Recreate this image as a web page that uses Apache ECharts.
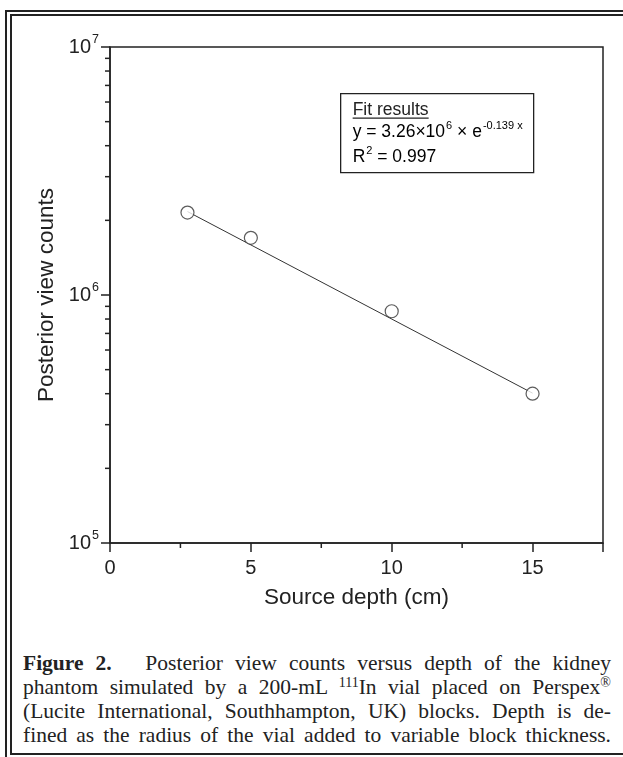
<!DOCTYPE html>
<html>
<head>
<meta charset="utf-8">
<script src="https://cdn.jsdelivr.net/npm/echarts@6/dist/echarts.min.js"></script>
<style>
  html, body { margin: 0; padding: 0; background: #fff; width: 623px; height: 757px; overflow: hidden; }
  #outer { position: absolute; left: 5px; top: 10px; width: 700px; height: 800px; border-left: 2px solid #222; border-top: 2px solid #222; }
  #inner { position: absolute; left: 10px; top: 14px; width: 700px; height: 737px; border-left: 2px solid #222; border-top: 2px solid #222; border-bottom: 2px solid #222; }
  #chart { position: absolute; left: 0; top: 0; width: 623px; height: 630px; }
  #caption { position: absolute; left: 23px; top: 651px; width: 588px; font-family: "Liberation Serif", "Times New Roman", serif; font-size: 21.5px; line-height: 24px; color: #222; }
  #caption div { text-align: justify; text-align-last: justify; white-space: nowrap; }
  sup { font-size: 14px; line-height: 0; vertical-align: 7px; }
</style>
</head>
<body>
<div id="outer"></div>
<div id="inner"></div>
<div id="chart"></div>
<div id="caption">
  <div><b>Figure 2.</b>&ensp;&ensp; Posterior view counts versus depth of the kidney</div>
  <div>phantom simulated by a 200-mL <sup>111</sup>In vial placed on Perspex<sup>®</sup></div>
  <div>(Lucite International, Southhampton, UK) blocks. Depth is de-</div>
  <div>fined as the radius of the vial added to variable block thickness.</div>
</div>
<script>
// ---- data ----
var depthCm = [2.75, 5, 10, 15];
var counts = [2.15e6, 1.70e6, 8.6e5, 4.0e5];
var fitDepth = [2.75, 15];
var fitCounts = [2.17e6, 4.02e5];
var xTicks = [0, 5, 10, 15];
var xMinorTicks = [2.5, 7.5, 12.5];
var yTicks = [1e5, 1e6, 1e7];
var yTickExponents = ['5', '6', '7'];
var yMinorTicks = [2e5, 3e5, 4e5, 5e5, 6e5, 7e5, 8e5, 9e5, 2e6, 3e6, 4e6, 5e6, 6e6, 7e6, 8e6, 9e6];
var xAxisTitle = 'Source depth (cm)';
var yAxisTitle = 'Posterior view counts';
var fitTitle = 'Fit results';
var fitEquation = ['y = 3.26\u00d710', '6', ' \u00d7 e', '-0.139 x'];
var fitR2 = ['R', '2', ' = 0.997'];

var X_MIN = 0, X_MAX = 17.5, Y_MIN = 1e5, Y_MAX = 1e7;
var INK = '#222';
var SANS = '"Liberation Sans", Arial, sans-serif';

var chart = echarts.init(document.getElementById('chart'), null, { renderer: 'canvas' });

function pairs(a, b) { return a.map(function (v, i) { return [v, b[i]]; }); }

var boxRich = {
  n: { fontFamily: SANS, fontSize: 17.5, color: INK },
  s: { fontFamily: SANS, fontSize: 11, color: INK, padding: [0, 0, 12, 1] }
};

var option = {
  animation: false,
  backgroundColor: 'transparent',
  grid: { left: 110, top: 47, width: 493, height: 496, show: true, borderColor: INK, borderWidth: 1.5, backgroundColor: 'transparent' },
  xAxis: {
    type: 'value', min: X_MIN, max: X_MAX, interval: 5,
    name: xAxisTitle, nameLocation: 'middle', nameGap: 43,
    nameTextStyle: { fontFamily: SANS, fontSize: 22.5, color: INK },
    axisLine: { show: true, lineStyle: { color: INK, width: 1.5 } },
    axisTick: { show: true, inside: false, length: 9, lineStyle: { color: INK, width: 1.5 } },
    axisLabel: {
      margin: 15, fontFamily: SANS, fontSize: 20, color: INK,
      formatter: function (v) { return xTicks.indexOf(v) >= 0 ? String(v) : ''; }
    },
    splitLine: { show: false }
  },
  yAxis: {
    type: 'log', logBase: 10, min: Y_MIN, max: Y_MAX, interval: 1,
    name: yAxisTitle, nameLocation: 'middle', nameGap: 51, nameRotate: 90,
    nameTextStyle: { fontFamily: SANS, fontSize: 22.5, color: INK },
    axisLine: { show: true, lineStyle: { color: INK, width: 1.5 } },
    axisTick: { show: true, inside: false, length: 9, lineStyle: { color: INK, width: 1.5 } },
    axisLabel: {
      margin: 11, color: INK,
      formatter: function (v) {
        var i = yTicks.indexOf(v);
        if (i < 0) { i = Math.round(Math.log10(v)) - 5; }
        return '{b|10}{s|' + yTickExponents[i] + '}';
      },
      rich: {
        b: { fontFamily: SANS, fontSize: 20, color: INK },
        s: { fontFamily: SANS, fontSize: 12.5, color: INK, padding: [0, 0, 15, 1] }
      }
    },
    splitLine: { show: false }
  },
  series: [
    {
      type: 'custom', silent: true, clip: false, z: 1,
      data: yMinorTicks.map(function (v) { return [X_MIN, v]; }),
      renderItem: function (params, api) {
        var p = api.coord([X_MIN, api.value(1)]);
        return { type: 'line', shape: { x1: p[0] - 5, y1: p[1], x2: p[0], y2: p[1] }, style: { stroke: INK, lineWidth: 1.5 } };
      }
    },
    {
      type: 'custom', silent: true, clip: false, z: 1,
      data: xMinorTicks.map(function (v) { return [v, Y_MIN]; }),
      renderItem: function (params, api) {
        var p = api.coord([api.value(0), Y_MIN]);
        return { type: 'line', shape: { x1: p[0], y1: p[1], x2: p[0], y2: p[1] + 5 }, style: { stroke: INK, lineWidth: 1.5 } };
      }
    },
    {
      type: 'line', data: pairs(fitDepth, fitCounts), showSymbol: false, z: 2,
      lineStyle: { color: '#333', width: 1 }
    },
    {
      type: 'scatter', data: pairs(depthCm, counts), z: 3,
      symbol: 'circle', symbolSize: 13,
      itemStyle: { color: '#fff', borderColor: '#333', borderWidth: 1.2 }
    }
  ],
  graphic: [
    {
      type: 'group', left: 340, top: 93, children: [
        { type: 'rect', shape: { x: 0, y: 0, width: 193, height: 79 }, style: { fill: '#fff', stroke: INK, lineWidth: 1.3 } },
        { type: 'text', x: 12, y: 8, style: { text: fitTitle, fontFamily: SANS, fontSize: 17.5, fill: INK } },
        { type: 'line', shape: { x1: 12, y1: 24.5, x2: 88, y2: 24.5 }, style: { stroke: INK, lineWidth: 1.2 } },
        { type: 'text', x: 12, y: 27, style: {
            text: '{n|' + fitEquation[0] + '}{s|' + fitEquation[1] + '}{n|' + fitEquation[2] + '}{s|' + fitEquation[3] + '}',
            rich: boxRich
        } },
        { type: 'text', x: 12, y: 52, style: {
            text: '{n|' + fitR2[0] + '}{s|' + fitR2[1] + '}{n|' + fitR2[2] + '}',
            rich: boxRich
        } }
      ]
    }
  ]
};
chart.setOption(option);
</script>
</body>
</html>
